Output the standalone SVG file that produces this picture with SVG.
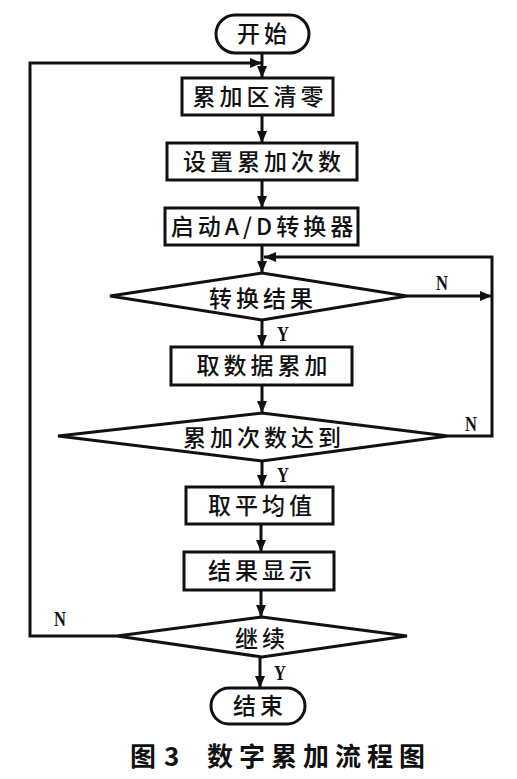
<svg xmlns="http://www.w3.org/2000/svg" width="517" height="779" viewBox="0 0 517 779">
<defs>
<marker id="ah" markerWidth="12" markerHeight="10" refX="12" refY="5" orient="auto" markerUnits="userSpaceOnUse">
<path d="M0,0 L12,5 L0,10 Z" fill="#111"/>
</marker>
<style>
.shape{fill:#fff;stroke:#111;stroke-width:3}
.line{fill:none;stroke:#111;stroke-width:3}
.t{font-family:"Noto Sans CJK SC","Liberation Sans",sans-serif;font-size:23px;font-weight:500;fill:#111;text-anchor:middle;letter-spacing:4px}
.yn{font-family:"Liberation Serif",serif;font-size:22px;font-weight:bold;fill:#111;text-anchor:middle}
.cap{font-family:"Noto Sans CJK SC","Liberation Sans",sans-serif;font-size:26px;font-weight:bold;fill:#111}
</style>
</defs>
<rect width="517" height="779" fill="#fff"/>
<g id="connectors">
<line class="line" x1="262" y1="53" x2="262" y2="78" marker-end="url(#ah)"/>
<polyline class="line" points="117,636 30,636 30,63 262,63" marker-end="url(#ah)"/>
<line class="line" x1="262" y1="115" x2="262" y2="143" marker-end="url(#ah)"/>
<line class="line" x1="262" y1="180" x2="262" y2="208" marker-end="url(#ah)"/>
<line class="line" x1="262" y1="245" x2="262" y2="273" marker-end="url(#ah)"/>
<line class="line" x1="407" y1="296" x2="492" y2="296" marker-end="url(#ah)"/>
<polyline class="line" points="448,436 492,436 492,257 264,257" marker-end="url(#ah)"/>
<line class="line" x1="262" y1="320" x2="262" y2="347" marker-end="url(#ah)"/>
<line class="line" x1="262" y1="385" x2="262" y2="413" marker-end="url(#ah)"/>
<line class="line" x1="262" y1="461" x2="262" y2="487" marker-end="url(#ah)"/>
<line class="line" x1="261" y1="524" x2="261" y2="552" marker-end="url(#ah)"/>
<line class="line" x1="261" y1="590" x2="261" y2="617" marker-end="url(#ah)"/>
<line class="line" x1="260" y1="657" x2="260" y2="688" marker-end="url(#ah)"/>
<text class="yn" transform="translate(442,290) scale(0.75,1)">N</text>
<text class="yn" transform="translate(283,341) scale(0.75,1)">Y</text>
<text class="yn" transform="translate(471,431) scale(0.75,1)">N</text>
<text class="yn" transform="translate(283,482) scale(0.75,1)">Y</text>
<text class="yn" transform="translate(60,626) scale(0.75,1)">N</text>
<text class="yn" transform="translate(280,680) scale(0.75,1)">Y</text>
</g>
<g id="start">
<rect class="shape" x="216" y="15" width="93" height="38" rx="19"/>
<text class="t" x="264" y="42">开始</text>
</g>
<g id="box1">
<rect class="shape" x="182" y="78" width="151" height="37"/>
<text class="t" x="260" y="105">累加区清零</text>
</g>
<g id="box2">
<rect class="shape" x="167" y="143" width="190" height="37"/>
<text class="t" x="264" y="170">设置累加次数</text>
</g>
<g id="box3">
<rect class="shape" x="165" y="208" width="193" height="37"/>
<text class="t" x="264" y="235">启动A/D转换器</text>
</g>
<g id="dec1">
<polygon class="shape" points="110,296 262,273 407,296 262,320"/>
<text class="t" x="263" y="307">转换结果</text>
</g>
<g id="box4">
<rect class="shape" x="171" y="347" width="181" height="38"/>
<text class="t" x="264" y="374">取数据累加</text>
</g>
<g id="dec2">
<polygon class="shape" points="58,436 262,413 448,436 262,461"/>
<text class="t" x="264" y="446">累加次数达到</text>
</g>
<g id="box5">
<rect class="shape" x="186" y="487" width="147" height="37"/>
<text class="t" x="262" y="514">取平均值</text>
</g>
<g id="box6">
<rect class="shape" x="184" y="552" width="150" height="38"/>
<text class="t" x="262" y="579">结果显示</text>
</g>
<g id="dec3">
<polygon class="shape" points="117,636 262,617 407,636 262,657"/>
<text class="t" x="262" y="647">继续</text>
</g>
<g id="end">
<rect class="shape" x="211" y="688" width="94" height="36" rx="18"/>
<text class="t" x="260" y="714">结束</text>
</g>
<g id="caption">
<text class="cap" x="130" y="766">图</text>
<text class="cap" x="164" y="766" font-family="Liberation Serif">3</text>
<text class="cap" x="207" y="766" letter-spacing="6">数字累加流程图</text>
</g>
</svg>
